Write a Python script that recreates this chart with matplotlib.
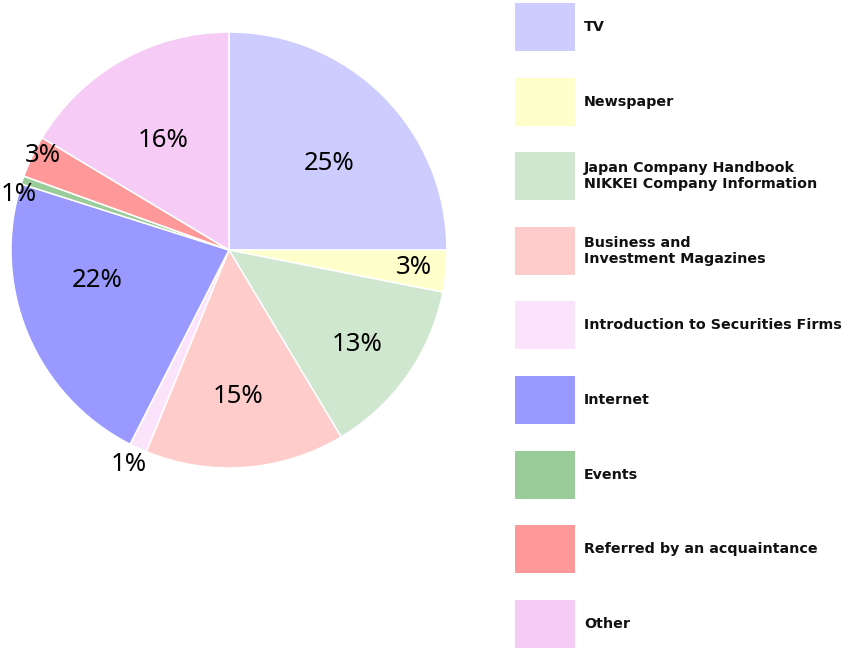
import numpy as np
import matplotlib.pyplot as plt
from matplotlib.patches import Rectangle

categories = ["TV", "Newspaper",
              "Japan Company Handbook\nNIKKEI Company Information",
              "Business and\nInvestment Magazines",
              "Introduction to Securities Firms", "Internet", "Events",
              "Referred by an acquaintance", "Other"]
shares = [25.0, 3.1, 13.3, 14.8, 1.3, 22.4, 0.6, 3.1, 16.4]
colors = ["#ccccff", "#ffffcc", "#cfe6cf", "#ffcccc", "#fbe4fb",
          "#9999ff", "#99cc99", "#ff9999", "#f6ccf6"]

# label placement: radius (fraction of pie radius) and angle tweak in degrees
label_r = [0.61, 0.85, 0.73, 0.67, 1.08, 0.62, 1.0, 0.96, 0.59]
label_dang = [-4, 0.5, -1, -0.7, -0.5, -10, 3.8, -1.7, 1.4]

W, H = 865, 651
fig = plt.figure(figsize=(W / 100, H / 100), dpi=100)
cx, cy, R = 229, 250, 218
ax = fig.add_axes([(cx - R) / W, (H - cy - R) / H, 2 * R / W, 2 * R / H])

wedges, _ = ax.pie(shares, colors=colors, startangle=90, counterclock=False,
                   radius=1, wedgeprops=dict(edgecolor="white", linewidth=1.1))
ax.set_xlim(-1, 1)
ax.set_ylim(-1, 1)
ax.set_aspect("equal")
ax.axis("off")

for w, v, r, da in zip(wedges, shares, label_r, label_dang):
    ang = np.deg2rad((w.theta1 + w.theta2) / 2 + da)
    ax.text(r * np.cos(ang), r * np.sin(ang) - 0.005, f"{round(v)}%",
            ha="center", va="center", fontsize=18.5, family="Noto Sans",
            color="black", clip_on=False)

# legend drawn by hand in pixel coordinates (y measured from the top)
lax = fig.add_axes([0, 0, 1, 1])
lax.set_xlim(0, W)
lax.set_ylim(H, 0)
lax.axis("off")
for i, (name, c) in enumerate(zip(categories, colors)):
    top = 3 + 74.6 * i
    lax.add_patch(Rectangle((515, top), 60, 48, facecolor=c, edgecolor="none"))
    lax.text(584, top + 24, name, ha="left", va="center", fontsize=10.3,
             family="DejaVu Sans", weight="bold", color="#111111",
             linespacing=1.15)

fig.savefig("out.png", dpi=100)
